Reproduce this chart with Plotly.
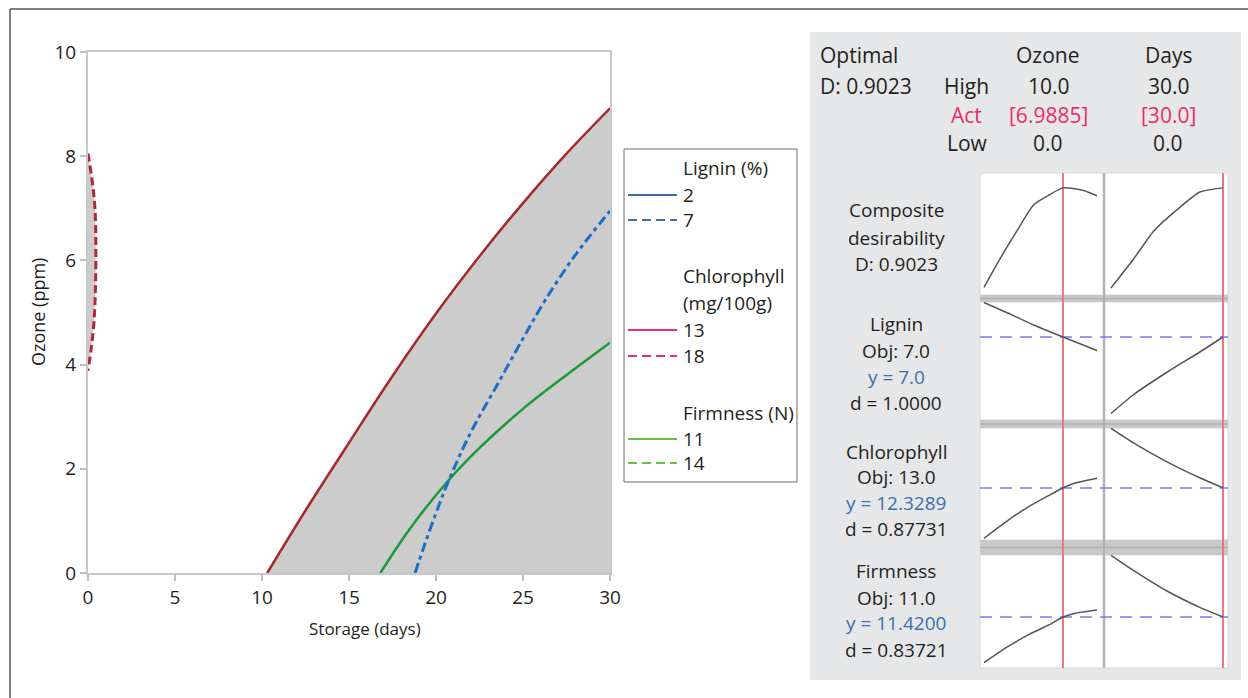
import plotly.graph_objects as go

W, H = 1248, 698
FONT = "Open Sans"
TXT = "#231f20"

# ---------------- contour plot data ----------------
chl13_x = [10.3, 12.5, 15.0, 17.5, 20.0, 22.5, 25.0, 27.5, 30.0]
chl13_y = [0.0, 1.2, 2.5, 3.78, 4.98, 6.08, 7.1, 8.05, 8.92]
chl18_x = [0.0, 0.25, 0.4, 0.45, 0.43, 0.34, 0.18, 0.0]
chl18_y = [8.05, 7.5, 7.0, 6.3, 5.5, 4.8, 4.3, 3.88]
lig7_x = [18.8, 19.3, 20.0, 20.7, 22.0, 23.5, 25.0, 26.3, 28.0, 30.0]
lig7_y = [0.0, 0.5, 1.15, 1.75, 2.7, 3.6, 4.5, 5.25, 6.1, 6.95]
fir11_x = [16.8, 18.5, 20.7, 22.5, 25.0, 27.5, 30.0]
fir11_y = [0.0, 0.85, 1.77, 2.4, 3.15, 3.8, 4.42]

# ---------------- optimizer data ----------------
opt_ozone = 6.9885
opt_days = 30.0
ozone_grid_d = [0, 1.4, 2.9, 4.4, 5.8, 6.9885, 8.8, 10]
comp_oz = [0.015, 0.266, 0.516, 0.752, 0.841, 0.9023, 0.879, 0.832]
days_grid_d = [0, 6, 11.4, 17.7, 23.8, 30]
comp_days = [0.01, 0.266, 0.516, 0.708, 0.865, 0.9023]

ozone_grid_l = [0, 2.2, 4.4, 6.9885, 10]
lig_oz = [9.3, 8.57, 7.8, 7.0, 6.1]
days_grid = [0, 6, 15, 23.8, 30]
lig_days = [1.9, 3.15, 4.65, 6.0, 7.0]

ozone_grid_c = [0, 2, 4, 6, 6.9885, 8, 10]
chl_oz = [7.3, 9.0, 10.5, 11.75, 12.3289, 12.8, 13.3]
chl_days = [18.3, 16.85, 14.95, 13.35, 12.3289]

ozone_grid_f = [0, 2, 4, 6, 6.9885, 8, 10]
fir_oz = [9.14, 9.9, 10.55, 11.1, 11.42, 11.6, 11.77]
fir_days = [14.5, 13.75, 12.72, 11.9, 11.42]

targets = {"lig": 7.0, "chl": 12.3289, "fir": 11.42}


def px(x):
    return x / W


def py(y):
    return 1 - y / H


fig = go.Figure()

# ----- contour plot traces -----
fig.add_trace(go.Scatter(x=chl13_x + [30.0], y=chl13_y + [0.0], fill="toself",
                         fillcolor="#cccccc", line=dict(width=0), mode="lines",
                         hoverinfo="skip", showlegend=False))
fig.add_trace(go.Scatter(x=chl18_x, y=chl18_y, fill="toself", fillcolor="#cccccc",
                         line=dict(width=0), mode="lines", hoverinfo="skip", showlegend=False))
fig.add_trace(go.Scatter(x=chl13_x, y=chl13_y, mode="lines",
                         line=dict(color="#a42a2d", width=2.5, shape="spline"), showlegend=False))
fig.add_trace(go.Scatter(x=chl18_x, y=chl18_y, mode="lines",
                         line=dict(color="#b02a35", width=3, dash="8px,4px", shape="spline"),
                         showlegend=False))
fig.add_trace(go.Scatter(x=fir11_x, y=fir11_y, mode="lines",
                         line=dict(color="#1c9a3a", width=2.5, shape="spline"), showlegend=False))
fig.add_trace(go.Scatter(x=lig7_x, y=lig7_y, mode="lines",
                         line=dict(color="#1e6ec8", width=3, dash="10px,4px,4px,4px", shape="spline"),
                         showlegend=False))

# ----- optimizer cells -----
cells = [
    (2, ozone_grid_d, comp_oz), (3, days_grid_d, comp_days),
    (4, ozone_grid_l, lig_oz), (5, days_grid, lig_days),
    (6, ozone_grid_c, chl_oz), (7, days_grid, chl_days),
    (8, ozone_grid_f, fir_oz), (9, days_grid, fir_days),
]
for n, xs, ys in cells:
    fig.add_trace(go.Scatter(x=xs, y=ys, mode="lines", xaxis=f"x{n}", yaxis=f"y{n}",
                             line=dict(color="#555555", width=1.5, shape="spline", smoothing=0.6),
                             showlegend=False, hoverinfo="skip"))

col_dom = [(980, 1103), (1105, 1228)]
row_dom = [(173, 295), (302, 420), (428, 540), (555, 668)]
col_rng = [[-0.354, 10.531], [-1.607, 31.34]]
row_rng = [[-0.053, 1.035], [1.467, 9.333], [7.129, 18.329], [8.87, 14.52]]

layout = dict(
    template="none",
    width=W, height=H, margin=dict(l=0, r=0, t=0, b=0, pad=0, autoexpand=False),
    autosize=False, showlegend=False,
    paper_bgcolor="white", plot_bgcolor="rgba(0,0,0,0)",
    font=dict(family=FONT, color=TXT),
    xaxis=dict(domain=[px(88), px(610)], range=[0, 30], tickvals=[0, 5, 10, 15, 20, 25, 30],
               ticks="outside", ticklen=6, tickcolor="#bdbdbd", tickwidth=1.5,
               showline=True, linecolor="#c8c8c8", linewidth=2, mirror=True, automargin=False,
               showgrid=False, zeroline=False, tickfont=dict(size=19, color=TXT),
               fixedrange=True),
    yaxis=dict(domain=[py(573), py(52)], range=[0, 10], tickvals=[0, 2, 4, 6, 8, 10],
               ticks="outside", ticklen=6, tickcolor="#bdbdbd", tickwidth=1.5,
               showline=True, linecolor="#c8c8c8", linewidth=2, mirror=True, automargin=False,
               showgrid=False, zeroline=False, tickfont=dict(size=19, color=TXT),
               fixedrange=True),
)
n = 2
for r in range(4):
    for c in range(2):
        layout[f"xaxis{n}"] = dict(domain=[px(col_dom[c][0]), px(col_dom[c][1])],
                                   range=col_rng[c], visible=False, anchor=f"y{n}",
                                   automargin=False, fixedrange=True)
        layout[f"yaxis{n}"] = dict(domain=[py(row_dom[r][1]), py(row_dom[r][0])],
                                   range=row_rng[r], visible=False, anchor=f"x{n}",
                                   automargin=False, fixedrange=True)
        n += 1
fig.update_layout(**layout)

shapes = []
# outer frame
shapes.append(dict(type="line", xref="paper", yref="paper", x0=px(10), x1=1, y0=py(9), y1=py(9),
                   line=dict(color="#555555", width=1.5)))
shapes.append(dict(type="line", xref="paper", yref="paper", x0=px(10), x1=px(10), y0=py(9), y1=0,
                   line=dict(color="#555555", width=1.5)))
# legend box
shapes.append(dict(type="rect", xref="paper", yref="paper", x0=px(624), x1=px(797), y0=py(482), y1=py(149),
                   line=dict(color="#6d6d6d", width=1), fillcolor="white"))
# right panel
shapes.append(dict(type="rect", xref="paper", yref="paper", x0=px(810), x1=px(1241), y0=py(680), y1=py(32),
                   line=dict(width=0), fillcolor="#e6e7e8", layer="below"))
for r in range(4):
    for c in range(2):
        shapes.append(dict(type="rect", xref="paper", yref="paper",
                           x0=px(col_dom[c][0]), x1=px(col_dom[c][1]),
                           y0=py(row_dom[r][1]), y1=py(row_dom[r][0]),
                           line=dict(color="#d6d6d6", width=1), fillcolor="white", layer="below"))
for y0, y1 in [(295, 302), (420, 428), (540, 555)]:
    shapes.append(dict(type="rect", xref="paper", yref="paper", x0=px(980), x1=px(1228),
                       y0=py(y1), y1=py(y0), line=dict(width=0), fillcolor="#c9c9c9", layer="below"))
    ym = (y0 + y1) / 2
    shapes.append(dict(type="line", xref="paper", yref="paper", x0=px(980), x1=px(1228),
                       y0=py(ym), y1=py(ym), line=dict(color="#b0b0b0", width=1.5), layer="below"))
# divider
shapes.append(dict(type="line", xref="paper", yref="paper", x0=px(1104), x1=px(1104),
                   y0=py(668), y1=py(173), line=dict(color="#a5a5a5", width=1.5), layer="below"))
# red current-setting lines
shapes.append(dict(type="line", xref="x2", yref="paper", x0=opt_ozone, x1=opt_ozone,
                   y0=py(668), y1=py(173), line=dict(color="#e8797b", width=2), layer="below"))
shapes.append(dict(type="line", xref="x3", yref="paper", x0=opt_days, x1=opt_days,
                   y0=py(668), y1=py(173), line=dict(color="#e8797b", width=2), layer="below"))
# target dashed lines
for yax, key in [("y4", "lig"), ("y6", "chl"), ("y8", "fir")]:
    shapes.append(dict(type="line", xref="paper", yref=yax, x0=px(980), x1=px(1228),
                       y0=targets[key], y1=targets[key],
                       line=dict(color="#7a7af5", width=1.5, dash="12px,8px"), layer="below"))

# legend samples
leg_items = [
    (195, "#3b6fae", "solid", "2"), (220, "#3b6fae", "dash", "7"),
    (330, "#ec2b6b", "solid", "13"), (356, "#ec2b6b", "dash", "18"),
    (439, "#69c04a", "solid", "11"), (463, "#69c04a", "dash", "14"),
]
for yy, col, ds, lab in leg_items:
    shapes.append(dict(type="line", xref="paper", yref="paper", x0=px(628), x1=px(677),
                       y0=py(yy), y1=py(yy),
                       line=dict(color=col, width=2, dash="9px,5px" if ds == "dash" else "solid")))
fig.update_layout(shapes=shapes)

ann = []


def add_text(x, y, text, size=19, color=TXT, xanchor="center", **kw):
    ann.append(dict(x=px(x), y=py(y), xref="paper", yref="paper", text=text, showarrow=False,
                    xanchor=xanchor, yanchor="middle", font=dict(size=size, color=color, family=FONT),
                    **kw))


# axis titles
add_text(365, 628, "Storage (days)", size=17)
add_text(38, 312, "Ozone (ppm)", size=18, textangle=-90)

# legend text
LS = 19
for yy, col, ds, lab in leg_items:
    add_text(681, yy, lab, size=LS, xanchor="left")
add_text(681, 168, "Lignin (%)", size=LS, xanchor="left")
add_text(681, 276, "Chlorophyll", size=LS, xanchor="left")
add_text(681, 303, "(mg/100g)", size=LS, xanchor="left")
add_text(681, 413, "Firmness (N)", size=LS, xanchor="left")

# optimizer header
PINK = "#ec2b6b"
HS = 21
add_text(818, 55, "Optimal", size=HS, xanchor="left")
add_text(818, 86, "D: 0.9023", size=HS, xanchor="left")
add_text(966, 86, "High", size=HS)
add_text(966, 115, "Act", size=HS, color=PINK)
add_text(967, 143, "Low", size=HS)
add_text(1047, 55, "Ozone", size=HS)
add_text(1049, 86, "10.0", size=HS)
add_text(1048, 115, f"[{opt_ozone:.4f}]", size=HS, color=PINK)
add_text(1048, 143, "0.0", size=HS)
add_text(1168, 55, "Days", size=HS)
add_text(1169, 86, "30.0", size=HS)
add_text(1168, 115, f"[{opt_days:.1f}]", size=HS, color=PINK)
add_text(1168, 143, "0.0", size=HS)

BLUE = "#3b6fae"
row_labels = [
    [(210, "Composite", TXT), (238, "desirability", TXT), (264, "D: 0.9023", TXT)],
    [(324, "Lignin", TXT), (351, "Obj: 7.0", TXT), (377, "y = 7.0", BLUE), (403, "d = 1.0000", TXT)],
    [(452, "Chlorophyll", TXT), (477, "Obj: 13.0", TXT), (503, "y = 12.3289", BLUE), (529, "d = 0.87731", TXT)],
    [(571, "Firmness", TXT), (598, "Obj: 11.0", TXT), (623, "y = 11.4200", BLUE), (650, "d = 0.83721", TXT)],
]
for rows in row_labels:
    for yy, t, colr in rows:
        add_text(896, yy, t, size=19, color=colr)

fig.update_layout(annotations=ann)
fig.write_html("out.html", config={"displayModeBar": False},
               post_script="document.body.style.margin='0';")
